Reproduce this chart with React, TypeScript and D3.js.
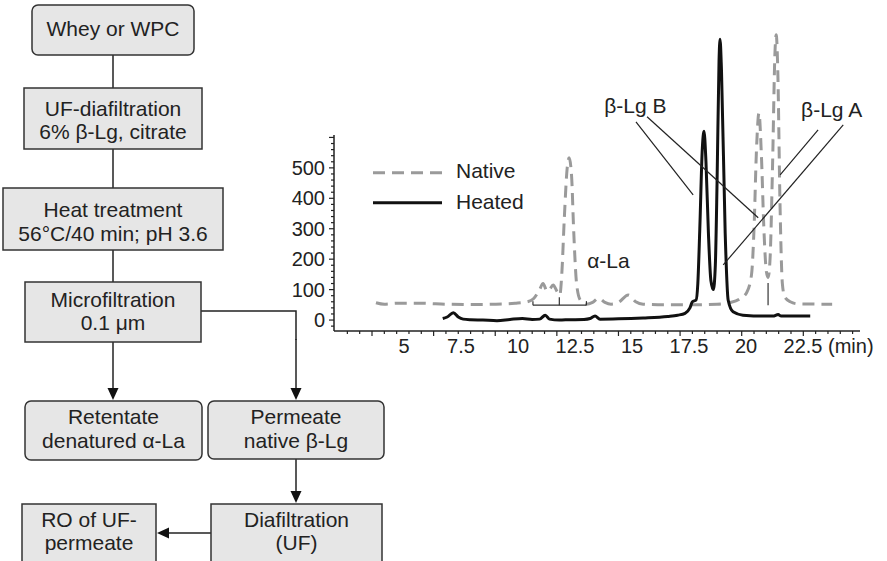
import React from "react";
import * as d3 from "d3";

// ---------- Data ----------
const nativeTime = [5.16, 5.5, 6.0, 7.0, 8.0, 9.0, 10.0, 10.8, 11.3, 11.55, 11.8, 11.94, 12.1, 12.2, 12.35, 12.5, 12.62, 12.7, 12.8, 12.92, 13.0, 13.1, 13.18, 13.3, 13.45, 13.7, 13.95, 14.2, 14.45, 14.7, 15.0, 15.4, 15.7, 16.0, 17.0, 18.0, 19.0, 19.5, 19.9, 20.2, 20.4, 20.5, 20.6, 20.7, 20.8, 20.9, 21.0, 21.07, 21.15, 21.25, 21.35, 21.4, 21.47, 21.55, 21.65, 21.75, 21.97, 22.3, 23.67];
const nativeSignal = [57, 52, 55, 55, 52, 51, 52, 55, 60, 70, 100, 120, 95, 100, 115, 95, 82, 150, 330, 500, 533, 470, 300, 120, 66, 52, 58, 72, 58, 52, 58, 82, 60, 52, 50, 50, 52, 57, 68, 90, 150, 300, 560, 680, 540, 300, 160, 140, 200, 500, 880, 937, 800, 400, 120, 75, 60, 53, 52];

const heatedTime = [7.87, 8.05, 8.3, 8.5, 8.7, 9.0, 9.5, 10.07, 10.6, 11.1, 11.5, 11.8, 12.03, 12.2, 12.6, 13.0, 13.6, 13.85, 14.05, 14.25, 15.0, 16.0, 17.0, 17.4, 17.7, 17.9, 18.0, 18.15, 18.22, 18.3, 18.4, 18.47, 18.55, 18.65, 18.75, 18.85, 18.93, 19.0, 19.08, 19.12, 19.18, 19.33, 19.45, 19.65, 20.05, 21.0, 21.27, 21.48, 21.6, 22.78];
const heatedSignal = [5, 10, 24, 10, 3, 1, 0, -2, 2, 5, 2, 3, 16, 3, 0, 1, 2, 5, 13, 3, 4, 7, 12, 16, 22, 40, 60, 66, 120, 300, 560, 620, 520, 285, 130, 100, 180, 450, 850, 923, 820, 285, 66, 27, 16, 13, 13, 18, 13, 13];

const xTickLabels = [5, 7.5, 10, 12.5, 15, 17.5, 20, 22.5];
const yTickLabels = [0, 100, 200, 300, 400, 500];
const seriesNames = ["Native", "Heated"];

// integration markers (time, signal)
const alphaBracket = [11.53, 13.7];
const bracketLevel = 49;
const markerTimes = [12.6, 21.07];
const markerTops = [75, 122];

// annotation labels (time, signal)
const annotationLabels = ["β-Lg B", "β-Lg A", "α-La"];
const annotationTime = [14.42, 22.41, 13.73];
const annotationSignal = [681, 668, 171];
// leader lines: [t1, s1, t2, s2]
const leaderLines = [
  [15.71, 651, 18.03, 411],
  [16.16, 668, 20.67, 336],
  [23.1, 625, 21.56, 477],
  [24.12, 641, 19.25, 181],
];

// flowchart
const flowLabels = [
  ["Whey or WPC"],
  ["UF-diafiltration", "6% β-Lg, citrate"],
  ["Heat treatment", "56°C/40 min; pH 3.6"],
  ["Microfiltration", "0.1 μm"],
  ["Retentate", "denatured α-La"],
  ["Permeate", "native β-Lg"],
  ["RO of UF-", "permeate"],
  ["Diafiltration", "(UF)"],
];

// ---------- Layout ----------
const W = 887, H = 561;
const FONT = "'Liberation Sans', Arial, Helvetica, sans-serif";
const boxes = [
  { x: 32, y: 5, w: 162, h: 50, r: 6, ty: [36] },
  { x: 24, y: 88, w: 178, h: 61, r: 0, ty: [116, 139] },
  { x: 3, y: 188, w: 220, h: 62, r: 0, ty: [217, 241] },
  { x: 25, y: 282, w: 176, h: 60, r: 0, ty: [307, 330] },
  { x: 25, y: 401, w: 177, h: 59, r: 6, ty: [424, 448] },
  { x: 208, y: 401, w: 176, h: 58, r: 6, ty: [424, 448] },
  { x: 22, y: 504, w: 134, h: 70, r: 0, ty: [527, 550] },
  { x: 211, y: 504, w: 171, h: 70, r: 0, ty: [527, 550] },
];

const x = d3.scaleLinear().domain([3.458, 24.8]).range([334, 860]);
const xLabel = d3.scaleLinear().domain([5, 22.5]).range([404, 803]);
const y = d3.scaleLinear().domain([-36, 608]).range([331, 135]);

function toPts(t: number[], s: number[]): [number, number][] {
  return t.map((v, i) => [v, s[i]]);
}

const line = d3
  .line<[number, number]>()
  .x((d) => x(d[0]))
  .y((d) => y(d[1]))
  .curve(d3.curveMonotoneX);

function Arrow({ x1, y1, x2, y2 }: { x1: number; y1: number; x2: number; y2: number }) {
  const ang = Math.atan2(y2 - y1, x2 - x1);
  const L = 12, hw = 5.5;
  const bx = x2 - L * Math.cos(ang), by = y2 - L * Math.sin(ang);
  const px = -Math.sin(ang) * hw, py = Math.cos(ang) * hw;
  return (
    <g>
      <line x1={x1} y1={y1} x2={bx} y2={by} stroke="#222" strokeWidth={1.5} />
      <path d={`M${x2},${y2}L${bx + px},${by + py}L${bx - px},${by - py}Z`} fill="#111" />
    </g>
  );
}

export default function App() {
  const minorX = d3.range(4, 24.51, 0.5);
  const minorY = d3.range(-20, 601, 20);
  const nat = toPts(nativeTime, nativeSignal);
  const heat = toPts(heatedTime, heatedSignal);

  return (
    <svg
      width={W}
      height={H}
      viewBox={`0 0 ${W} ${H}`}
      style={{ position: "absolute", left: 0, top: 0, background: "#fff" }}
      fontFamily={FONT}
    >
      {/* ---------- Flowchart ---------- */}
      <g>
        <line x1={113} y1={55} x2={113} y2={88} stroke="#222" strokeWidth={1.5} />
        <line x1={113} y1={149} x2={113} y2={188} stroke="#222" strokeWidth={1.5} />
        <line x1={113} y1={250} x2={113} y2={282} stroke="#222" strokeWidth={1.5} />
        <Arrow x1={113} y1={342} x2={113} y2={400} />
        <polyline points="201,311 296,311 296,340" fill="none" stroke="#222" strokeWidth={1.5} />
        <Arrow x1={296} y1={339} x2={296} y2={400} />
        <Arrow x1={296} y1={459} x2={296} y2={503} />
        <Arrow x1={211} y1={533} x2={157} y2={533} />
        {boxes.map((b, i) => (
          <g key={i}>
            <rect x={b.x} y={b.y} width={b.w} height={b.h} rx={b.r} ry={b.r} fill="#e6e6e6" stroke="#333" strokeWidth={1.5} />
            {flowLabels[i].map((t, j) => (
              <text key={j} x={b.x + b.w / 2} y={b.ty[j]} textAnchor="middle" fontSize={21} fill="#222">
                {t}
              </text>
            ))}
          </g>
        ))}
      </g>

      {/* ---------- Chromatogram ---------- */}
      <g>
        {/* axes */}
        <line x1={x.range()[0]} y1={y.range()[0]} x2={x.range()[1]} y2={y.range()[0]} stroke="#222" strokeWidth={1.5} />
        <line x1={x.range()[0]} y1={y.range()[0]} x2={x.range()[0]} y2={y.range()[1]} stroke="#222" strokeWidth={1.5} />
        {minorX.map((t) => {
          const major = Math.abs(t / 2.5 - Math.round(t / 2.5)) < 1e-6;
          return (
            <line key={"mx" + t} x1={x(t)} x2={x(t)} y1={y.range()[0]} y2={y.range()[0] + (major ? 5 : 3)} stroke="#222" strokeWidth={1.2} />
          );
        })}
        {xTickLabels.map((t) => (
          <text key={"xl" + t} x={xLabel(t)} y={353} textAnchor="middle" fontSize={20} fill="#222">
            {t}
          </text>
        ))}
        <text x={xLabel(22.5) + 25} y={353} fontSize={20} fill="#222">
          (min)
        </text>
        {minorY.map((v) => {
          const major = v % 100 === 0;
          return (
            <line key={"my" + v} x1={x.range()[0] - (major ? 5 : 3)} x2={x.range()[0]} y1={y(v)} y2={y(v)} stroke="#222" strokeWidth={1.2} />
          );
        })}
        {yTickLabels.map((v) => (
          <text key={"yl" + v} x={325} y={y(v) + 7} textAnchor="end" fontSize={20} fill="#222">
            {v}
          </text>
        ))}

        {/* series */}
        <path d={line(nat) || ""} fill="none" stroke="#9a9a9a" strokeWidth={3} strokeDasharray="12,7" />
        <path d={line(heat) || ""} fill="none" stroke="#111" strokeWidth={3} strokeLinejoin="round" />

        {/* integration markers */}
        <line x1={x(alphaBracket[0])} x2={x(alphaBracket[1])} y1={y(bracketLevel)} y2={y(bracketLevel)} stroke="#333" strokeWidth={1.2} />
        {alphaBracket.map((t) => (
          <line key={"bt" + t} x1={x(t)} x2={x(t)} y1={y(bracketLevel)} y2={y(bracketLevel) - 4} stroke="#333" strokeWidth={1.2} />
        ))}
        {markerTimes.map((t, i) => (
          <line key={"mk" + t} x1={x(t)} x2={x(t)} y1={y(bracketLevel)} y2={y(markerTops[i])} stroke="#333" strokeWidth={1.2} />
        ))}

        {/* annotations */}
        {leaderLines.map((l, i) => (
          <line key={"ll" + i} x1={x(l[0])} y1={y(l[1])} x2={x(l[2])} y2={y(l[3])} stroke="#222" strokeWidth={1.2} />
        ))}
        {annotationLabels.map((a, i) => (
          <text key={a} x={x(annotationTime[i])} y={y(annotationSignal[i])} fontSize={21} fill="#222">
            {a}
          </text>
        ))}

        {/* legend */}
        <line x1={373} x2={442} y1={172.7} y2={172.7} stroke="#9a9a9a" strokeWidth={3} strokeDasharray="12,7" />
        <text x={456} y={178} fontSize={21} fill="#222">{seriesNames[0]}</text>
        <line x1={373} x2={442} y1={202.7} y2={202.7} stroke="#111" strokeWidth={3} />
        <text x={456} y={209} fontSize={21} fill="#222">{seriesNames[1]}</text>
      </g>
    </svg>
  );
}
